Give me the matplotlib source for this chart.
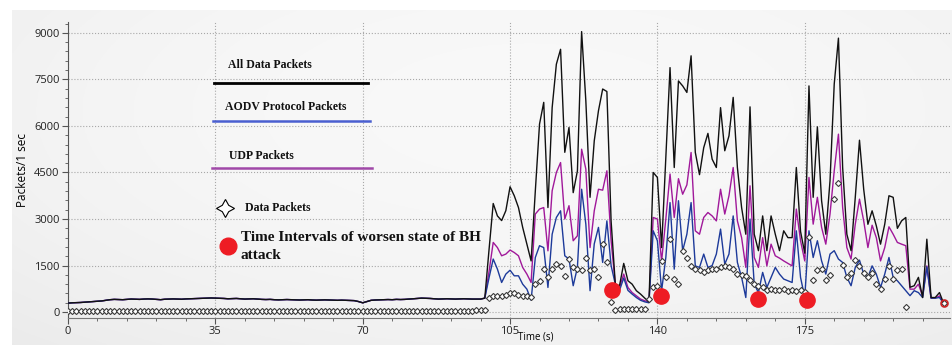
import numpy as np
import matplotlib.pyplot as plt
from matplotlib.ticker import MultipleLocator

# baseline period (t = 0..98), one value per second
base = [290, 300, 305, 310, 320, 330, 340, 350, 360, 380,
        400, 410, 405, 400, 410, 420, 415, 410, 420, 425,
        420, 410, 400, 415, 420, 425, 420, 415, 425, 430,
        435, 440, 445, 450, 455, 450, 445, 440, 430, 435,
        440, 430, 420, 425, 430, 420, 410, 405, 410, 400,
        395, 400, 405, 400, 395, 390, 395, 400, 390, 385,
        390, 395, 390, 385, 380, 385, 380, 375, 370, 340,
        300, 340, 380, 390, 395, 400, 405, 400, 410, 405,
        410, 420, 430, 440, 450, 445, 440, 430, 420, 425,
        430, 425, 420, 425, 430, 425, 420, 420, 420]

# attack period (t = 99..208)
all_active = [450, 2000, 3500, 3100, 2950, 3270, 4040, 3750, 3370, 2730,
              2190, 1650, 3900, 6060, 6760, 3370, 6590, 7990, 8470, 5150,
              5950, 3850, 4550, 9040, 6810, 3700, 5520, 6490, 7190, 7110,
              2940, 900, 850, 1570, 1010, 900, 690, 580, 450, 330,
              4500, 4340, 2080, 5000, 7880, 4660, 7450, 7290, 7080, 8260,
              5150, 4430, 5300, 5760, 4930, 4660, 6590, 5200, 5680, 6920,
              4660, 3370, 2510, 6615, 2510, 1980, 3100, 1980, 3100, 2510,
              1980, 2620, 2400, 2400, 4660, 2600, 1900, 7290, 3700, 5970,
              3590, 2510, 4230, 7350, 8830, 4660, 2510, 1980, 3700, 5540,
              3960, 2830, 3265, 2780, 2190, 2835, 3750, 3700, 2700, 2940,
              3050, 800, 850, 1120, 470, 2350, 470, 470, 630, 280]

udp_active = [450, 1300, 2245, 2080, 1815, 1870, 2000, 1920, 1815, 1440,
              1225, 955, 3160, 3320, 3370, 1975, 3910, 4500, 4820, 3000,
              3430, 2300, 2460, 5250, 4610, 2080, 3265, 3960, 3930, 4555,
              2300, 900, 795, 1225, 795, 630, 525, 420, 365, 330,
              3050, 3000, 1650, 3000, 4450, 3050, 4300, 3800, 4100, 5145,
              2620, 2510, 3050, 3210, 3100, 2940, 3960, 3160, 3750, 4660,
              2940, 2400, 1440, 4070, 1760, 1440, 2400, 1490, 2190, 1815,
              1740, 1650, 1570, 1490, 3320, 2300, 1650, 4340, 2835, 3700,
              2730, 2190, 3160, 4555, 5735, 3370, 2080, 1710, 2835, 3640,
              2940, 2080, 2800, 2400, 1650, 2080, 2750, 2510, 2245, 2190,
              2140, 740, 740, 900, 520, 1490, 450, 450, 520, 280]

aodv_active = [450, 1100, 1710, 1385, 955, 1225, 1350, 1170, 1170, 900,
               740, 385, 1760, 2140, 2080, 795, 2510, 3050, 3265, 1815,
               1710, 850, 1440, 3960, 2835, 690, 2200, 2730, 1600, 2940,
               1500, 900, 700, 1100, 700, 580, 470, 380, 330, 300,
               2620, 2300, 690, 1760, 3530, 1385, 3590, 1980, 2510, 3530,
               1490, 1440, 1870, 1440, 1500, 1870, 2675, 1545, 1870, 3100,
               1600, 1120, 470, 3000, 900, 630, 1280, 795, 1120, 1440,
               1225, 1065, 1010, 955, 2620, 1120, 470, 2620, 1760, 2300,
               1650, 1225, 1870, 1980, 1710, 1600, 1120, 850, 1440, 1675,
               1225, 1120, 1490, 1225, 795, 1225, 1760, 1120, 1010, 850,
               690, 530, 690, 630, 470, 1460, 450, 450, 470, 280]

# data packet markers, t = 0..208 (nan = no marker)
data_pk = [30, 25, 30, 35, 30, 25, 30, 30, 35, 30,
           30, 25, 30, 30, 35, 30, 30, 25, 30, 30,
           35, 30, 30, 25, 30, 30, 30, 35, 30, 25,
           30, 30, 35, 30, 30, 25, 30, 30, 30, 35,
           30, 25, 30, 30, 35, 30, 30, 25, 30, 30,
           35, 30, 30, 25, 30, 30, 30, 35, 30, 25,
           30, 30, 35, 30, 30, 25, 30, 30, 30, 35,
           30, 25, 30, 30, 35, 30, 30, 25, 30, 30,
           35, 30, 30, 25, 30, 30, 30, 35, 30, 25,
           30, 30, 35, 30, 40, 45, 50, 55, 60, 60,
           450, 530, 530, 510, 560, 600, 600, 560, 520, 530,
           500, 900, 1010, 1385, 1120, 1385, 1545, 1490, 1170, 1710,
           1440, 1385, 1350, 1740, 1350, 1400, 1140, 2190, 1630, 330,
           65, 90, 100, 100, 110, 100, 100, 110, 420, 795,
           850, 1650, 1120, 2350, 1065, 900, 1980, 1740, 1490, 1385,
           1350, 1300, 1350, 1380, 1400, 1440, 1500, 1450, 1400, 1230,
           1180, 1150, 1030, 920, 850, 800, 700, 760, 720, 700,
           740, 680, 720, 680, 700, 650, 2430, 1030, 1350, 1380,
           1030, 1200, 3660, 4170, 1520, 1140, 1270, 1675, 1500, 1250,
           1140, 1250, 920, 760, 1080, 1480, 1080, 1350, 1400, 150,
           np.nan, np.nan, np.nan, np.nan, np.nan, np.nan, np.nan, np.nan, 300]

# worst BH-attack moments
bh_t = [129.2, 140.9, 163.9, 175.5]
bh_v = [710, 516, 420, 387]

t = np.arange(len(base) + len(all_active))
all_pk = np.array(base + all_active, dtype=float)
udp_pk = np.array(base + udp_active, dtype=float)
aodv_pk = np.array(base + aodv_active, dtype=float)
data_pk = np.array(data_pk, dtype=float)

fig = plt.figure(figsize=(9.53, 3.45), dpi=100)
fig.patch.set_facecolor('white')

# light grey panel behind the chart, slightly brighter towards the middle
bg = fig.add_axes([12 / 953, 0, 1 - 12 / 953, 1 - 10 / 345])
yy, xx = np.mgrid[0:1:200j, 0:1:400j]
shade = 0.975 - 0.06 * (yy - 0.3) ** 2 - 0.08 * (xx - 0.55) ** 2
bg.imshow(np.dstack([shade] * 3), aspect='auto', extent=[0, 1, 0, 1])
bg.axis('off')

ax = fig.add_axes([68 / 953, 27 / 345, (950 - 68) / 953, 296 / 345])
ax.set_facecolor('none')

ax.plot(t, udp_pk, color='#a0189a', lw=1.0, zorder=3)
ax.plot(t, aodv_pk, color='#1d3a9a', lw=1.0, zorder=3)
ax.plot(t, all_pk, color='#111111', lw=1.0, zorder=4)
ax.plot(t, data_pk, ls='none', marker='D', ms=3.1, mfc='white', mec='#3a3a3a',
        mew=0.8, zorder=5)
ax.plot(t[-1], data_pk[-1], ls='none', marker='o', ms=5, mfc='none',
        mec='#cc2222', mew=1.2, zorder=6)
ax.plot(bh_t, bh_v, ls='none', marker='o', ms=11, color='#ee1c24', zorder=7)

# hand-drawn legend inside the plot
serif = 'Liberation Serif'
ax.plot([34.7, 71.3], [7380, 7380], color='black', lw=2.0, zorder=6)
ax.plot([34.5, 71.8], [6150, 6150], color='#4a5fd0', lw=1.8, zorder=6)
ax.plot([34.2, 72.1], [4640, 4640], color='#a048a8', lw=1.8, zorder=6)
ax.text(38.0, 7960, 'All Data Packets', family=serif, weight='bold', fontsize=8.5,
        va='center', ha='left', color='#111111')
ax.text(37.3, 6600, 'AODV Protocol Packets', family=serif, weight='bold',
        fontsize=8.5, va='center', ha='left', color='#111111')
ax.text(38.2, 5020, 'UDP Packets', family=serif, weight='bold', fontsize=8.5,
        va='center', ha='left', color='#111111')
ax.plot(37.3, 3350, ls='none', marker=(4, 1, 0), ms=13, mfc='white',
        mec='black', mew=0.8, zorder=6)
ax.text(42.0, 3350, 'Data Packets', family=serif, weight='bold', fontsize=8.5,
        va='center', ha='left', color='#111111')
ax.plot(38.0, 2130, ls='none', marker='o', ms=12, color='#ee1c24', zorder=6)
ax.text(41.0, 2400, 'Time Intervals of worsen state of BH', family=serif,
        weight='bold', fontsize=11, va='center', ha='left', color='#111111')
ax.text(41.0, 1840, 'attack', family=serif, weight='bold', fontsize=11,
        va='center', ha='left', color='#111111')

ax.set_xlim(0, 209.5)
ax.set_ylim(-190, 9350)
ax.xaxis.set_major_locator(MultipleLocator(35))
ax.xaxis.set_minor_locator(MultipleLocator(7))
ax.yaxis.set_major_locator(MultipleLocator(1500))
ax.yaxis.set_minor_locator(MultipleLocator(300))
ax.grid(True, which='major', ls=':', color='#a8a8a8', lw=0.8)
ax.set_axisbelow(True)

for s in ['top', 'right']:
    ax.spines[s].set_visible(False)
ax.spines['left'].set_color('#555555')
ax.spines['bottom'].set_color('#777777')
ax.tick_params(which='both', direction='out', colors='#555555',
               labelcolor='#222222', labelsize=8)
ax.tick_params(which='major', length=4, pad=2)
ax.tick_params(which='minor', length=2.5)
for lab in ax.get_xticklabels() + ax.get_yticklabels():
    lab.set_family('Open Sans')

ax.set_ylabel('Packets/1 sec', family='Open Sans', fontsize=8.5, labelpad=4)
ax.set_xlabel('Time (s)', family='Open Sans', fontsize=7)
ax.xaxis.set_label_coords(0.53, -0.045)

fig.savefig('out.png', dpi=100)
